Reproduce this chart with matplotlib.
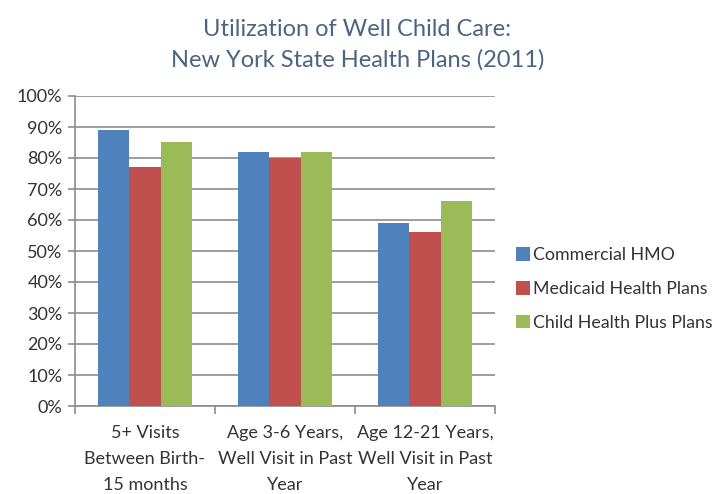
import matplotlib
matplotlib.use("Agg")
import matplotlib.pyplot as plt
import numpy as np
from matplotlib.patches import Patch

categories = [
    "5+ Visits\nBetween Birth-\n15 months",
    "Age 3-6 Years,\nWell Visit in Past\nYear",
    "Age 12-21 Years,\nWell Visit in Past\nYear",
]
series_names = ["Commercial HMO", "Medicaid Health Plans", "Child Health Plus Plans"]
commercial = [89, 82, 59]
medicaid = [77, 80, 56]
child_plus = [85, 82, 66]
colors = ["#4F81BD", "#C0504D", "#9BBB59"]
yticks = [0, 10, 20, 30, 40, 50, 60, 70, 80, 90, 100]

plt.rcParams["font.family"] = ["Lato", "DejaVu Sans"]
text_color = "#333333"
axis_gray = "#8C8C8C"

fig = plt.figure(figsize=(7.19, 4.94), dpi=100)
ax = fig.add_axes([75 / 719, 1 - 406 / 494, 420 / 719, 310 / 494])

x = np.arange(len(categories))
w = 0.222
for i, (vals, c) in enumerate(zip([commercial, medicaid, child_plus], colors)):
    ax.bar(x + (i - 1) * w, vals, width=w, color=c, zorder=3)

ax.set_xlim(-0.5, 2.5)
ax.set_ylim(0, 100)
ax.set_yticks(yticks)
ax.set_yticklabels([f"{v}%" for v in yticks], fontsize=13, color=text_color)
ax.yaxis.grid(True, color=axis_gray, linewidth=1.2, zorder=0)

# category boundaries get the tick marks, category centres get the labels
ax.set_xticks([-0.5, 0.5, 1.5, 2.5])
ax.set_xticklabels([])
ax.set_xticks(x, minor=True)
ax.set_xticklabels(categories, minor=True, fontsize=13, color=text_color,
                   linespacing=1.75)
ax.tick_params(axis="x", which="minor", length=0, pad=14)
ax.tick_params(axis="x", which="major", length=6, color=axis_gray, width=1.2)
ax.tick_params(axis="y", length=5, color=axis_gray, width=1.2, pad=4)

for side in ["top", "right"]:
    ax.spines[side].set_visible(False)
for side in ["left", "bottom"]:
    ax.spines[side].set_color(axis_gray)
    ax.spines[side].set_linewidth(1.2)

handles = [Patch(facecolor=c, label=n) for c, n in zip(colors, series_names)]
fig.legend(handles=handles, loc="center left", bbox_to_anchor=(500 / 719, 1 - 289 / 494),
           frameon=False, fontsize=12.8, handlelength=0.8, handleheight=0.8,
           handletextpad=0.15, labelspacing=1.0, labelcolor=text_color)

fig.text(0.497, 1 - 30 / 494, "Utilization of Well Child Care:", ha="center", va="center",
         fontsize=17, color="#4A6584")
fig.text(0.497, 1 - 60 / 494, "New York State Health Plans (2011)", ha="center", va="center",
         fontsize=17, color="#4A6584")

fig.savefig("out.png", dpi=100)
